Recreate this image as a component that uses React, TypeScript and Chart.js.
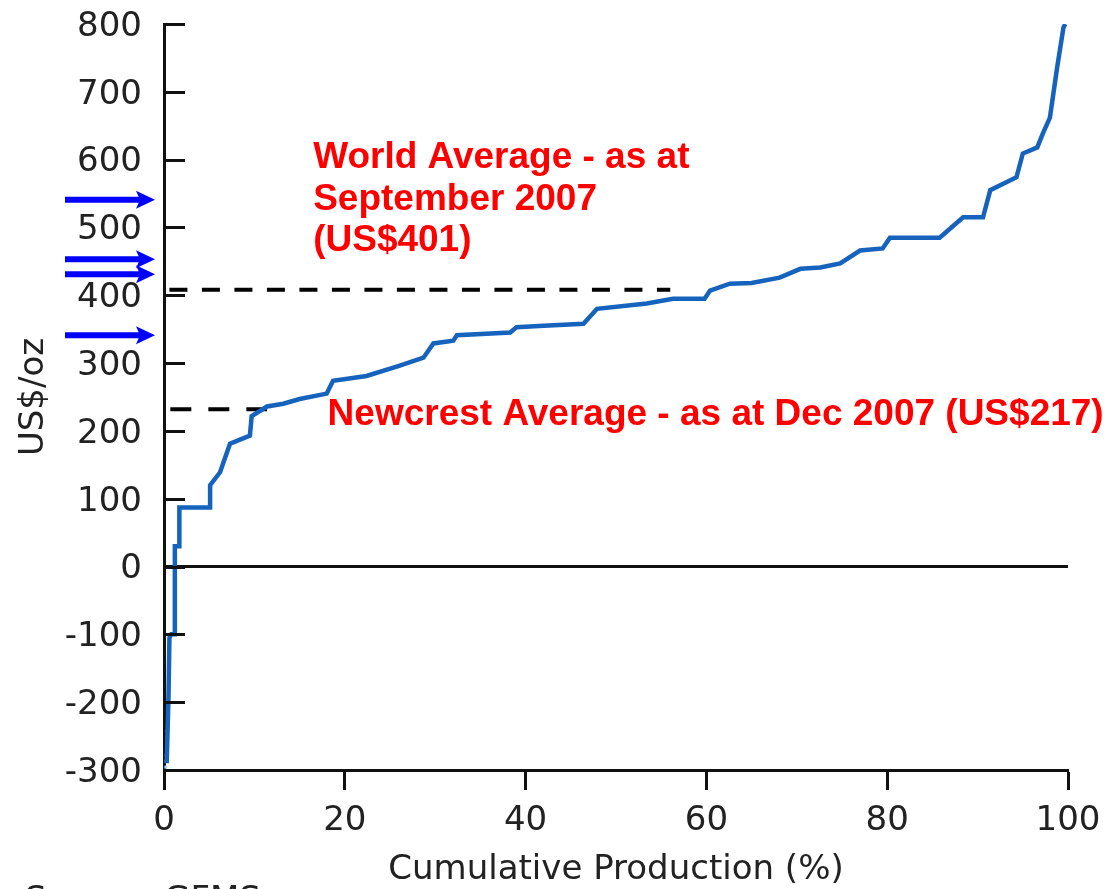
import React, { useEffect, useRef } from "react";
import { Chart, registerables } from "chart.js";

Chart.register(...registerables);

// Cumulative production (%) vs cash cost (US$/oz)
const costCurveX = [0.3, 0.5, 0.6, 0.8, 1.2, 1.2, 1.7, 1.7, 5.1, 5.1, 6.2, 7.3, 8.0, 9.5, 9.7, 11.4, 13.2, 15, 18, 18.7, 22.4, 26, 28.7, 29.8, 32, 32.4, 38.3, 39, 42, 46.4, 47.9, 53.4, 56.3, 59.8, 60.4, 62.6, 65, 68.1, 70.4, 72.6, 74.8, 77, 79.5, 80.3, 85.8, 88.4, 90.6, 91.4, 94.3, 95, 96.6, 97.2, 98, 98.8, 99.5, 99.7];
const costCurveY = [-290, -190, -105, -100, -100, 30, 30, 87, 87, 120, 139, 181, 185, 193, 222, 236, 240, 247, 255, 274, 281, 296, 308, 329, 333, 341, 345, 353, 355, 358, 380, 388, 395, 395, 407, 417, 418, 426, 439, 441, 447, 466, 469, 485, 485, 515, 515, 555, 574, 609, 618, 638, 662, 736, 795, 800];

// faint dotted start of the curve
const faintX = [0.2, 0.5];
const faintY = [-298, -190];

// reference lines
const zeroLineX = [0, 100];
const zeroLineY = [0, 0];
const worldAvgX = [0.6, 56];
const worldAvgY = [408, 408];
const newcrestAvgX = [0.7, 11.4];
const newcrestAvgY = [232, 232];

// blue arrows on the left of the value axis (US$/oz)
const arrowValues = [541, 453, 431, 341];

// annotation texts (anchored at data coordinates)
const worldText = ["World Average - as at", "September 2007", "(US$401)"];
const worldTextAt = { x: 16.5, y: 587 };
const newcrestText = "Newcrest Average - as at Dec 2007 (US$217)";
const newcrestTextAt = { x: 18.1, y: 208 };
const sourceText = "Source: GFMS";

const xTitle = "Cumulative Production (%)";
const yTitle = "US$/oz";

const pts = (xs: number[], ys: number[]) => xs.map((x, i) => ({ x, y: ys[i] }));

const AXIS_FONT = '"DejaVu Sans", Verdana, sans-serif';
const RED_FONT = 'bold 37px "Liberation Sans", Arial, sans-serif';

const overlayPlugin = {
  id: "overlay",
  afterDraw(chart: any) {
    const { ctx, chartArea, scales } = chart;
    const xs = scales.x;
    const ys = scales.y;
    ctx.save();
    // inward y tick marks
    ctx.strokeStyle = "#111";
    ctx.lineWidth = 3;
    ys.ticks.forEach((t: any) => {
      const py = Math.round(ys.getPixelForValue(t.value)) + 0.5;
      ctx.beginPath();
      ctx.moveTo(chartArea.left, py);
      ctx.lineTo(chartArea.left + 21, py);
      ctx.stroke();
    });
    // blue arrows
    ctx.strokeStyle = "#0000ff";
    ctx.fillStyle = "#0000ff";
    ctx.lineWidth = 6;
    arrowValues.forEach((v) => {
      const py = ys.getPixelForValue(v);
      const tip = chartArea.left - 9;
      const start = chartArea.left - 99;
      ctx.beginPath();
      ctx.moveTo(start, py);
      ctx.lineTo(tip - 12, py);
      ctx.stroke();
      ctx.beginPath();
      ctx.moveTo(tip, py);
      ctx.lineTo(tip - 19, py - 9);
      ctx.lineTo(tip - 15, py);
      ctx.lineTo(tip - 19, py + 9);
      ctx.closePath();
      ctx.fill();
    });
    // red annotations
    ctx.fillStyle = "#ff0000";
    ctx.font = RED_FONT;
    ctx.textAlign = "left";
    ctx.textBaseline = "alphabetic";
    const wx = xs.getPixelForValue(worldTextAt.x);
    const wy = ys.getPixelForValue(worldTextAt.y);
    worldText.forEach((line, i) => ctx.fillText(line, wx, wy + i * 41.5));
    ctx.fillText(
      newcrestText,
      xs.getPixelForValue(newcrestTextAt.x),
      ys.getPixelForValue(newcrestTextAt.y)
    );
    // source (cut off at the bottom edge)
    ctx.fillStyle = "#222";
    ctx.font = `34px ${AXIS_FONT}`;
    ctx.fillText(sourceText, 25, chart.height + 21);
    ctx.restore();
  },
};

export default function App() {
  const ref = useRef<HTMLCanvasElement>(null);

  useEffect(() => {
    document.body.style.margin = "0";
    document.body.style.overflow = "hidden";
    const canvas = ref.current;
    if (!canvas) return;
    const chart = new Chart(canvas, {
      type: "scatter",
      data: {
        datasets: [
          {
            label: "Cost curve",
            data: pts(costCurveX, costCurveY),
            showLine: true,
            borderColor: "#1563bd",
            borderWidth: 4.5,
            pointRadius: 0,
            tension: 0,
          },
          {
            label: "faint",
            data: pts(faintX, faintY),
            showLine: true,
            borderColor: "#a8d4f2",
            borderWidth: 3,
            borderDash: [3, 3],
            pointRadius: 0,
          },
          {
            label: "World average",
            data: pts(worldAvgX, worldAvgY),
            showLine: true,
            borderColor: "#000",
            borderWidth: 4,
            borderDash: [18, 14.5],
            pointRadius: 0,
          },
          {
            label: "Newcrest average",
            data: pts(newcrestAvgX, newcrestAvgY),
            showLine: true,
            borderColor: "#000",
            borderWidth: 4,
            borderDash: [21, 17],
            pointRadius: 0,
          },
          {
            label: "zero",
            data: pts(zeroLineX, zeroLineY),
            showLine: true,
            borderColor: "#111",
            borderWidth: 3,
            pointRadius: 0,
          },
        ],
      },
      options: {
        responsive: false,
        animation: false,
        devicePixelRatio: 1,
        layout: { padding: { top: 24, right: 48, left: 0, bottom: 0 } },
        plugins: {
          legend: { display: false },
          tooltip: { enabled: false },
        },
        scales: {
          x: {
            type: "linear",
            min: 0,
            max: 100,
            afterFit: (s: any) => {
              s.height = 119;
            },
            ticks: {
              stepSize: 20,
              color: "#222",
              padding: 11,
              font: { family: AXIS_FONT, size: 34 },
            },
            grid: {
              display: true,
              drawOnChartArea: false,
              drawTicks: true,
              tickLength: 20,
              tickWidth: 3,
              color: "#111",
            },
            border: { display: true, width: 3, color: "#111" },
            title: {
              display: true,
              text: xTitle,
              color: "#222",
              font: { family: AXIS_FONT, size: 34, lineHeight: 1.1 },
              padding: { top: 0, bottom: 0 },
            },
          },
          y: {
            type: "linear",
            min: -300,
            max: 800,
            afterFit: (s: any) => {
              s.width = 164;
              s.paddingTop = 18;
              s.paddingBottom = 18;
            },
            ticks: {
              stepSize: 100,
              color: "#222",
              padding: 22,
              labelOffset: 3,
              font: { family: AXIS_FONT, size: 34 },
            },
            grid: { display: false, drawTicks: false },
            border: { display: true, width: 3, color: "#111" },
            title: {
              display: true,
              text: yTitle,
              color: "#222",
              font: { family: AXIS_FONT, size: 34, lineHeight: 1.1 },
              padding: { top: 15, bottom: 0 },
            },
          },
        },
      },
      plugins: [overlayPlugin],
    });
    return () => chart.destroy();
  }, []);

  return (
    <div style={{ width: 1116, height: 889, overflow: "hidden" }}>
      <canvas ref={ref} width={1116} height={889} style={{ display: "block" }} />
    </div>
  );
}
